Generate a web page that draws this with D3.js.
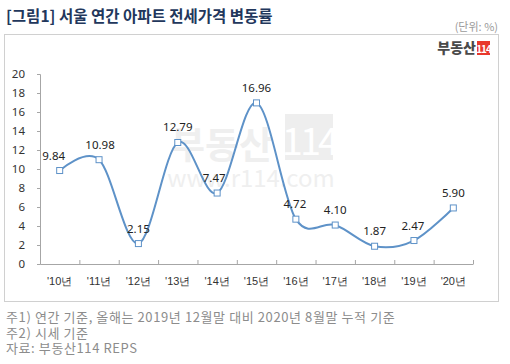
<!DOCTYPE html>
<html><head><meta charset="utf-8">
<script src="https://cdn.jsdelivr.net/npm/d3@7"></script>
<style>
html,body{margin:0;padding:0;background:#fff;}
svg{display:block;font-family:"Noto Sans CJK KR","Noto Sans",sans-serif;}
</style></head>
<body>
<script>
const categories = ["'10년","'11년","'12년","'13년","'14년","'15년","'16년","'17년","'18년","'19년","'20년"];
const values = [9.84,10.98,2.15,12.79,7.47,16.96,4.72,4.10,1.87,2.47,5.90];
const valueLabels = ["9.84","10.98","2.15","12.79","7.47","16.96","4.72","4.10","1.87","2.47","5.90"];
const yTicks = [0,2,4,6,8,10,12,14,16,18,20];
const title = "[그림1] 서울 연간 아파트 전세가격 변동률";
const unit = "(단위: %)";
const notes = ["주1) 연간 기준, 올해는 2019년 12월말 대비 2020년 8월말 누적 기준","주2) 시세 기준","자료: 부동산114 REPS"];

const W=510,H=364;
const svg=d3.select("body").append("svg").attr("width",W).attr("height",H);

// title
svg.append("text").attr("x",6).attr("y",22).attr("font-size",15.5).attr("font-weight","bold")
  .attr("fill","#22375c").text(title);
svg.append("text").attr("x",498).attr("y",31).attr("text-anchor","end").attr("font-size",11)
  .attr("fill","#9a9a9a").text(unit);

// box
svg.append("rect").attr("x",4.5).attr("y",34.5).attr("width",494).attr("height",267)
  .attr("fill","#fff").attr("stroke","#d0d0d0").attr("stroke-width",1);

// logo
svg.append("text").attr("x",476).attr("y",53).attr("text-anchor","end").attr("font-size",14)
  .attr("font-weight","900").attr("fill","#4a4a4a").text("부동산");
svg.append("rect").attr("x",477).attr("y",41).attr("width",13).attr("height",14).attr("fill","#e8382c");
svg.append("text").attr("x",483.5).attr("y",52.5).attr("text-anchor","middle").attr("font-size",10)
  .attr("font-weight","bold").attr("fill","#fff").attr("letter-spacing","-1").text("114");

// watermark
const wm=svg.append("g");
wm.append("text").attr("x",222).attr("y",159).attr("text-anchor","middle").attr("font-size",37)
  .attr("font-weight","bold").attr("fill","#efefef").text("부동산");
wm.append("rect").attr("x",285).attr("y",114).attr("width",48).attr("height",46).attr("fill","#eeeeee");
wm.append("text").attr("x",309).attr("y",155).attr("text-anchor","middle").attr("font-size",38)
  .attr("fill","#fff").attr("letter-spacing","-3").text("114");
wm.append("text").attr("x",251).attr("y",187).attr("text-anchor","middle").attr("font-size",24)
  .attr("fill","#efefef").text("www.r114.com");

// scales
const x=d3.scaleBand().domain(categories).range([40,473]);
const y=d3.scaleLinear().domain([0,20]).range([264,74]);

// y axis
const ya=svg.append("g").attr("transform","translate(40,0)")
  .call(d3.axisLeft(y).tickValues(yTicks).tickSize(3).tickPadding(12));
ya.select(".domain").attr("stroke","#a6a6a6");
ya.selectAll(".tick line").attr("stroke","#a6a6a6");
ya.selectAll(".tick text").attr("font-size",11.5).attr("fill","#333")
  .attr("font-family","'Noto Sans','Noto Sans CJK KR',sans-serif");

// x axis with ticks inward at band boundaries
const xa=svg.append("g").attr("transform","translate(0,264)")
  .call(d3.axisBottom(x).tickSize(0).tickPadding(13));
xa.select(".domain").attr("stroke","#a6a6a6");
xa.selectAll(".tick text").attr("font-size",11).attr("fill","#333");
const bounds=categories.map(c=>x(c)).concat([x(categories[categories.length-1])+x.bandwidth()]).slice(1);
xa.selectAll(".bt").data(bounds).enter().append("line").attr("class","bt")
  .attr("x1",d=>d+0.5).attr("x2",d=>d+0.5).attr("y1",0).attr("y2",-4).attr("stroke","#a6a6a6");

// line
const cx=(d,i)=>x(categories[i])+x.bandwidth()/2;
const line=d3.line().x(cx).y(d=>y(d)).curve(d3.curveCatmullRom.alpha(0));
svg.append("path").datum(values).attr("d",line).attr("fill","none")
  .attr("stroke","#5e92c8").attr("stroke-width",2);

svg.selectAll(".mk").data(values).enter().append("rect").attr("class","mk")
  .attr("x",(d,i)=>cx(d,i)-3).attr("y",d=>y(d)-3).attr("width",6).attr("height",6)
  .attr("fill","#fff").attr("stroke","#5e92c8").attr("stroke-width",1);

const dx=[-6,1,0,0,-3,0,-1,0,0,-1,0];
svg.selectAll(".lb").data(values).enter().append("text").attr("class","lb")
  .attr("x",(d,i)=>cx(d,i)+dx[i]).attr("y",d=>y(d)-11).attr("text-anchor","middle")
  .attr("font-size",11.5).attr("fill","#222")
  .attr("font-family","'Noto Sans','Noto Sans CJK KR',sans-serif")
  .text((d,i)=>valueLabels[i]);

// notes
svg.selectAll(".nt").data(notes).enter().append("text").attr("class","nt")
  .attr("x",6).attr("y",(d,i)=>322+i*15.5).attr("font-size",13).attr("letter-spacing","0.6")
  .attr("fill","#8c8c8c").text(d=>d);
</script>
</body></html>
